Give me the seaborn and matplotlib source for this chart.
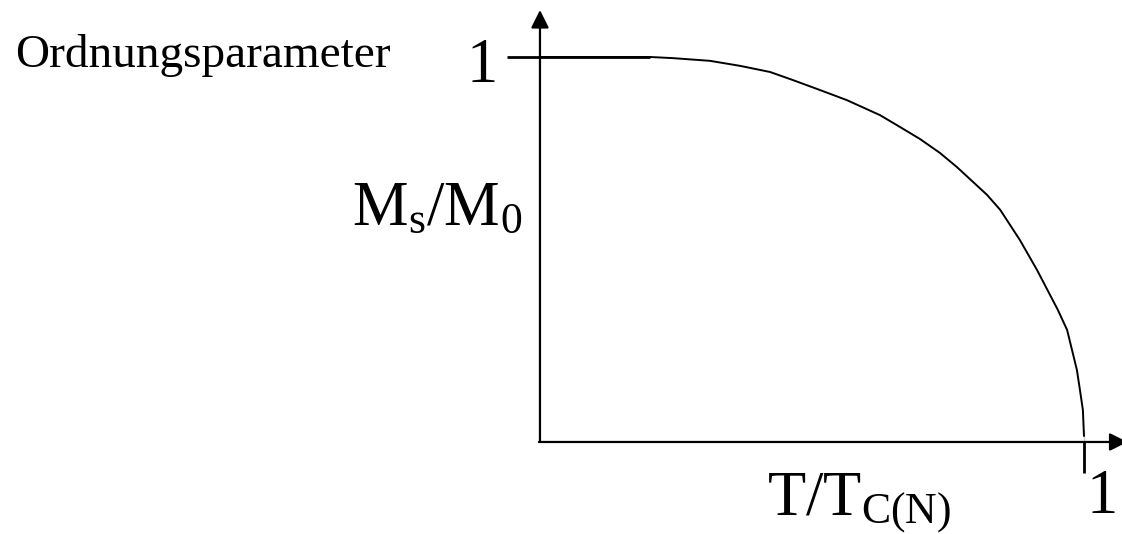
import matplotlib
matplotlib.use('Agg')
import matplotlib.pyplot as plt
import seaborn as sns
import pandas as pd

# order parameter curve M_s/M_0 vs T/T_C(N)
T_ratio = [0.0, 0.202, 0.2445, 0.3125, 0.3676, 0.423, 0.465, 0.515, 0.564,
           0.625, 0.662, 0.6985, 0.735, 0.7665, 0.8217, 0.846, 0.864,
           0.882, 0.9136, 0.952, 0.969, 0.978, 0.987, 0.9926, 0.998,
           1.0, 1.0]
M_ratio = [1.0, 1.0, 0.997, 0.990, 0.977, 0.961, 0.940, 0.914, 0.888,
           0.849, 0.818, 0.787, 0.751, 0.714, 0.642, 0.603, 0.564,
           0.525, 0.447, 0.343, 0.291, 0.239, 0.187, 0.135, 0.083,
           0.031, 0.0]

title_text = "Ordnungsparameter"
y_label = r"$\mathrm{M_s/M_0}$"
x_label = r"$\mathrm{T/T_{C(N)}}$"
tick_one = "1"

sns.set_style("white")
plt.rcParams['font.family'] = ['Liberation Serif', 'DejaVu Serif']
plt.rcParams['mathtext.fontset'] = 'custom'
plt.rcParams['mathtext.rm'] = 'Liberation Serif'
plt.rcParams['mathtext.it'] = 'Liberation Serif:italic'
plt.rcParams['text.color'] = 'black'

fig = plt.figure(figsize=(11.22, 5.34), dpi=100)
ax = fig.add_axes([0, 0, 1, 1])
ax.set_xlim(-0.9926, 1.0699)
ax.set_ylim(-0.239, 1.148)
ax.axis('off')

df = pd.DataFrame({'T': T_ratio, 'M': M_ratio})
sns.lineplot(data=df, x='T', y='M', ax=ax, color='black', lw=1.4, sort=False)

# axes with arrows
arrow = dict(arrowstyle='-|>', color='black', lw=1.6, mutation_scale=27,
             shrinkA=0, shrinkB=0)
ax.annotate('', xy=(0, 1.122), xytext=(0, 0), arrowprops=arrow,
            annotation_clip=False)
ax.annotate('', xy=(1.08, 0), xytext=(-0.002, 0), arrowprops=arrow,
            annotation_clip=False)

# tick marks at 1
ax.plot([-0.061, 0.202], [1, 1], color='black', lw=2.0, solid_capstyle='butt')
ax.plot([1, 1], [0, -0.08], color='black', lw=2.0, solid_capstyle='butt')

ax.text(-0.965, 0.974, title_text, fontsize=34, va='baseline', ha='left',
        color='black')
ax.text(-0.135, 0.935, tick_one, fontsize=45, va='baseline', ha='left',
        color='black')
ax.text(-0.346, 0.564, y_label, fontsize=45, va='baseline', ha='left',
        color='black')
ax.text(0.417, -0.190, x_label, fontsize=45, va='baseline', ha='left',
        color='black')
ax.text(1.004, -0.184, tick_one, fontsize=45, va='baseline', ha='left',
        color='black')

fig.savefig('out.png', dpi=100)
